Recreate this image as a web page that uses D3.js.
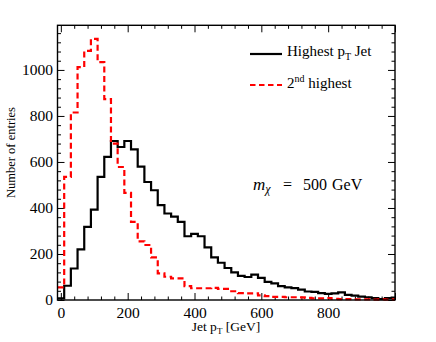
<!DOCTYPE html>
<html><head><meta charset="utf-8">
<script src="https://cdn.jsdelivr.net/npm/d3@7"></script>
<style>
body{margin:0;background:#fff}
svg{display:block}
text{font-family:"Liberation Serif","Times New Roman",serif;fill:#000}
</style>
</head><body>
<svg id="chart" width="436" height="342"></svg>
<script>
// ---- data ----
const binWidth = 20;            // GeV, bins centred on 0,20,...,1000
const highestJet = [7,62,137,220,318,393,535,622,691,665,
  691,655,580,513,477,412,376,362,340,277,
  287,277,229,185,162,139,120,105,100,110,
  96,79,72,60,55,52,45,37,35,30,
  27,29,33,22,19,15,12,8,4,8,10];
const secondJet = [55,535,815,1012,1083,1135,1034,873,680,578,
  466,340,255,239,185,116,101,94,94,60,
  51,51,51,53,48,48,38,30,29,29,
  20,17,14,14,12,12,11,9,7,7,
  8,5,4,4,3,3,3,2,3,2,3];
const xTickValues = [0,200,400,600,800,1000];
const xTickLabels = ["0","200","400","600","800",""];
const yTickValues = [0,200,400,600,800,1000];
const yTickLabels = ["0","200","400","600","800","1000"];
const seriesNames = ["Highest p", "2nd highest"];

// ---- layout ----
const L = 57.5, R = 395, T = 25.3, B = 300;
const svg = d3.select("#chart");
const x = d3.scaleLinear().domain([-10, 1000]).range([L, R]);
const y = d3.scaleLinear().domain([0, 1194]).range([B, T]);

const minorX = d3.range(0, 1001, 40).filter(v => v % 200 !== 0);
const minorY = d3.range(0, 1194, 40).filter(v => v % 200 !== 0);

function styleAxis(g){
  g.select(".domain").remove();
  g.attr("font-family", null);
  g.selectAll(".tick line").attr("stroke","#000").attr("stroke-width",1);
}
// bottom
svg.append("g").attr("transform",`translate(0,${B})`)
  .call(d3.axisBottom(x).tickValues(xTickValues).tickSize(-7).tickPadding(7)
    .tickFormat((d,i)=>xTickLabels[i]))
  .call(styleAxis)
  .call(g=>g.selectAll("text").attr("font-size","15.5px"));
svg.append("g").attr("transform",`translate(0,${B})`)
  .call(d3.axisBottom(x).tickValues(minorX).tickSize(-3.5).tickFormat(""))
  .call(styleAxis);
// top
svg.append("g").attr("transform",`translate(0,${T})`)
  .call(d3.axisTop(x).tickValues(xTickValues).tickSize(-7).tickFormat(""))
  .call(styleAxis);
svg.append("g").attr("transform",`translate(0,${T})`)
  .call(d3.axisTop(x).tickValues(minorX).tickSize(-3.5).tickFormat(""))
  .call(styleAxis);
// left
svg.append("g").attr("transform",`translate(${L},0)`)
  .call(d3.axisLeft(y).tickValues(yTickValues).tickSize(-7).tickPadding(4.5)
    .tickFormat((d,i)=>yTickLabels[i]))
  .call(styleAxis)
  .call(g=>g.selectAll("text").attr("font-size","15.5px"));
svg.append("g").attr("transform",`translate(${L},0)`)
  .call(d3.axisLeft(y).tickValues(minorY).tickSize(-3.5).tickFormat(""))
  .call(styleAxis);
// right
svg.append("g").attr("transform",`translate(${R},0)`)
  .call(d3.axisRight(y).tickValues(yTickValues).tickSize(-7).tickFormat(""))
  .call(styleAxis);
svg.append("g").attr("transform",`translate(${R},0)`)
  .call(d3.axisRight(y).tickValues(minorY).tickSize(-3.5).tickFormat(""))
  .call(styleAxis);

// ---- histograms ----
function stepPoints(vals){
  const pts = [];
  vals.forEach((v,i)=>{
    const c = i*binWidth;
    const a = Math.max(c - binWidth/2, x.domain()[0]);
    const b = Math.min(c + binWidth/2, x.domain()[1]);
    pts.push([a,v],[b,v]);
  });
  return pts;
}
const line = d3.line().x(d=>x(d[0])).y(d=>y(d[1]));
svg.append("path").attr("d", line(stepPoints(highestJet)))
  .attr("fill","none").attr("stroke","#000").attr("stroke-width",2.2)
  .attr("stroke-linejoin","miter");
svg.append("path").attr("d", line(stepPoints(secondJet)))
  .attr("fill","none").attr("stroke","#ff0000").attr("stroke-width",2.2)
  .attr("stroke-dasharray","6,3.5");

// frame
svg.append("rect").attr("x",L).attr("y",T).attr("width",R-L).attr("height",B-T)
  .attr("fill","none").attr("stroke","#000").attr("stroke-width",1.4);

// ---- legend ----
const lg = svg.append("g");
lg.append("line").attr("x1",250).attr("x2",282).attr("y1",54).attr("y2",54)
  .attr("stroke","#000").attr("stroke-width",2.2);
const t1 = lg.append("text").attr("x",287).attr("y",56).attr("font-size","15px");
t1.append("tspan").text(seriesNames[0]);
t1.append("tspan").attr("font-size","10px").attr("dy",4).text("T");
t1.append("tspan").attr("dy",-4).text(" Jet");
lg.append("line").attr("x1",250).attr("x2",282).attr("y1",85).attr("y2",85)
  .attr("stroke","#ff0000").attr("stroke-width",2.2).attr("stroke-dasharray","5.5,3.5");
const t2 = lg.append("text").attr("x",287).attr("y",88).attr("font-size","15px");
t2.append("tspan").text("2");
t2.append("tspan").attr("font-size","10px").attr("dy",-6).text("nd");
t2.append("tspan").attr("dy",6).text(" highest");

// ---- annotation ----
const ann = svg.append("g").attr("font-size","16px");
const tm = ann.append("text").attr("x",253).attr("y",190);
tm.append("tspan").attr("font-style","italic").attr("font-size","17px").text("m");
tm.append("tspan").attr("font-style","italic").attr("font-size","12px").attr("dy",3).text("χ");
ann.append("text").attr("x",283).attr("y",190).text("=");
ann.append("text").attr("x",303).attr("y",190).text("500");
ann.append("text").attr("x",332).attr("y",190).text("GeV");

// ---- axis titles ----
const xt = svg.append("text").attr("x",226).attr("y",331).attr("text-anchor","middle")
  .attr("font-size","13.5px");
xt.append("tspan").text("Jet p");
xt.append("tspan").attr("font-size","9px").attr("dy",3).text("T");
xt.append("tspan").attr("dy",-3).text(" [GeV]");
svg.append("text").attr("transform","translate(15,152.5) rotate(-90)")
  .attr("text-anchor","middle").attr("font-size","12.5px").text("Number of entries");
</script>
</body></html>
